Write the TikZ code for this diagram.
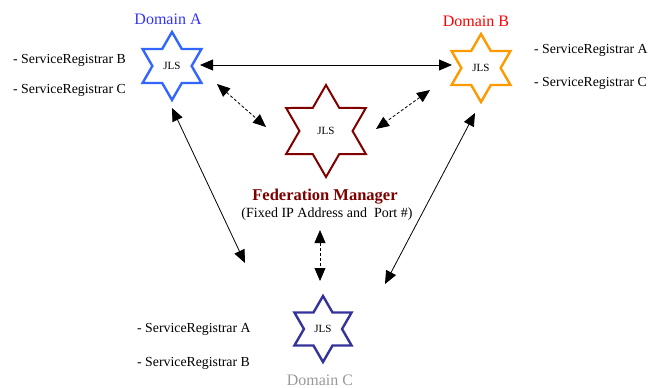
\documentclass[tikz,border=0pt]{standalone}
\usepackage{fontspec}
\setmainfont{Liberation Serif}
\usetikzlibrary{arrows.meta,shapes.geometric}

\definecolor{jlsblue}{RGB}{51,102,255}
\definecolor{jlsorange}{RGB}{255,153,0}
\definecolor{jlsred}{RGB}{128,0,0}
\definecolor{jlsnavy}{RGB}{51,51,153}

\begin{document}
\begin{tikzpicture}[x=1pt,y=-1pt]
  \tikzstyle{every node}+=[inner sep=0pt]
  \tikzstyle{jls}=[star,star points=6,star point ratio=1.732,line width=2.4pt,
    line join=miter,fill=white,font=\fontsize{11}{11}\selectfont]
  \tikzstyle{reg}=[anchor=west,font=\fontsize{13.8}{14}\selectfont]
  \tikzstyle{dom}=[font=\fontsize{16}{16}\selectfont]
  \tikzstyle{link}=[line width=0.8pt,{Triangle[length=13pt,width=11pt]}-{Triangle[length=13pt,width=11pt]}]
  \tikzstyle{fed}=[link,dashed,dash pattern=on 3pt off 2pt]
  \useasboundingbox (0,0) rectangle (657,388);
  \node[jls,draw=jlsblue,minimum size=68pt] (A) at (172,66) {JLS};
  \node[jls,draw=jlsorange,minimum size=68pt] (B) at (481,68) {JLS};
  \node[jls,draw=jlsred,minimum size=92pt,line width=2pt] (FM) at (326,131) {JLS};
  \node[jls,draw=jlsnavy,minimum size=66pt] (C) at (323,329) {JLS};
  \node[dom,text=blue!80!white] (domA) at (168,19) {Domain A};
  \node[dom,text=red] (domB) at (476,21) {Domain B};
  \node[dom,text=black!40] (domC) at (320,380) {Domain C};
  \node[text=jlsred,font=\bfseries\fontsize{16.5}{17}\selectfont] (fmname) at (325,197) {Federation Manager};
  \node[font=\fontsize{14}{14}\selectfont] (fmaddr) at (327,214) {(Fixed IP Address and\ \ Port \#)};
  \node[reg] (regA1) at (13,60) {- ServiceRegistrar B};
  \node[reg] (regA2) at (13,90) {- ServiceRegistrar C};
  \node[reg] (regB1) at (534,50) {- ServiceRegistrar A};
  \node[reg] (regB2) at (534,83) {- ServiceRegistrar C};
  \node[reg] (regC1) at (137,329) {- ServiceRegistrar A};
  \node[reg] (regC2) at (137,363) {- ServiceRegistrar B};
  \draw[link] ([shift={(28,-1)}]A.center) -- ([shift={(-29,-3)}]B.center);
  \draw[link] ([shift={(0,42)}]A.center) -- ([shift={(-78,-66)}]C.center);
  \draw[link] ([shift={(-6,45)}]B.center) -- ([shift={(62,-45)}]C.center);
  \draw[fed] ([shift={(45,18)}]A.center) -- ([shift={(-60,-4)}]FM.center);
  \draw[fed] ([shift={(-51,22)}]B.center) -- ([shift={(50,-2)}]FM.center);
  \draw[fed] ([shift={(-6,99)}]FM.center) -- ([shift={(-3,-48)}]C.center);
\end{tikzpicture}
\end{document}
